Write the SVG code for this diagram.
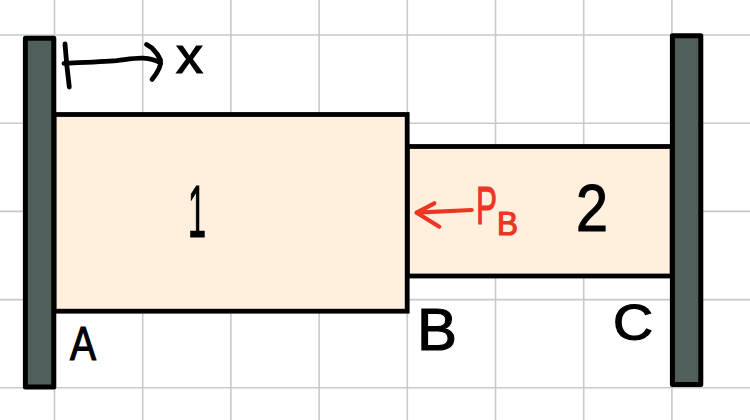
<svg xmlns="http://www.w3.org/2000/svg" width="750" height="420" viewBox="0 0 750 420">
<style>
.g{stroke:#c9c9c9;stroke-width:1.6;fill:none}
.wall{fill:#505e5c;stroke:#000;stroke-width:5;stroke-linejoin:round}
.bar{fill:#ffefdc;stroke:#000;stroke-width:4.8}
.ink{fill:none;stroke:#000;stroke-width:4.8;stroke-linecap:round;stroke-linejoin:round}
.red{fill:none;stroke:#ee3524;stroke-width:4.2;stroke-linecap:round;stroke-linejoin:round}
text{font-family:"Liberation Sans",Arial,sans-serif;fill:#000;stroke:#000;stroke-width:1.2}
text.r{fill:#ee3524;stroke:#ee3524}
</style>
<rect width="750" height="420" fill="#fff"/>
<g id="grid">
<path class="g" d="M54.5 0V420M142.7 0V420M230.9 0V420M319.1 0V420M407.3 0V420M495.5 0V420M583.7 0V420M671.9 0V420M0 35H750M0 123.2H750M0 211.4H750M0 299.6H750M0 387.8H750"/>
</g>
<g id="bar-2">
<rect class="bar" x="407.2" y="146.5" width="265" height="129.5"/>
<text x="576" y="231" font-size="67" textLength="32" lengthAdjust="spacingAndGlyphs">2</text>
</g>
<g id="bar-1">
<rect class="bar" x="54" y="114.5" width="353.2" height="196.7"/>
<text x="188" y="237" font-size="74" textLength="18" lengthAdjust="spacingAndGlyphs">1</text>
</g>
<g id="wall-a"><rect class="wall" x="25.4" y="38.2" width="28.4" height="348.8"/></g>
<g id="wall-c"><rect class="wall" x="672.4" y="35.8" width="28.4" height="348.6"/></g>
<g id="connectors">
<path class="ink" d="M65 44Q66.5 65 69.3 87"/>
<path class="ink" d="M64 63.3C85 62.5 105 61.8 116.7 60.7C128 59.3 135 57.8 143 58.2C150 58.6 156 60 160.5 63"/>
<path class="ink" d="M146.5 44.5L152 48Q158 54 160.5 60Q162 67 152 79.5"/>
<path class="red" d="M471.7 210L416.7 212.7"/>
<path class="red" d="M434.3 203.3L416.7 212.7L439.3 226.7"/>
</g>
<g id="label-x"><text x="176" y="73" font-size="52" textLength="27" lengthAdjust="spacingAndGlyphs">x</text></g>
<g id="label-pb">
<text class="r" x="476" y="224" font-size="54" textLength="21" lengthAdjust="spacingAndGlyphs">P</text>
<text class="r" x="497" y="235" font-size="33" textLength="21" lengthAdjust="spacingAndGlyphs">B</text>
</g>
<g id="label-a"><text x="70" y="360" font-size="48" textLength="26" lengthAdjust="spacingAndGlyphs">A</text></g>
<g id="label-b"><text x="417" y="350" font-size="60" textLength="40" lengthAdjust="spacingAndGlyphs">B</text></g>
<g id="label-c"><text x="613" y="340" font-size="50" textLength="40" lengthAdjust="spacingAndGlyphs">C</text></g>
</svg>
